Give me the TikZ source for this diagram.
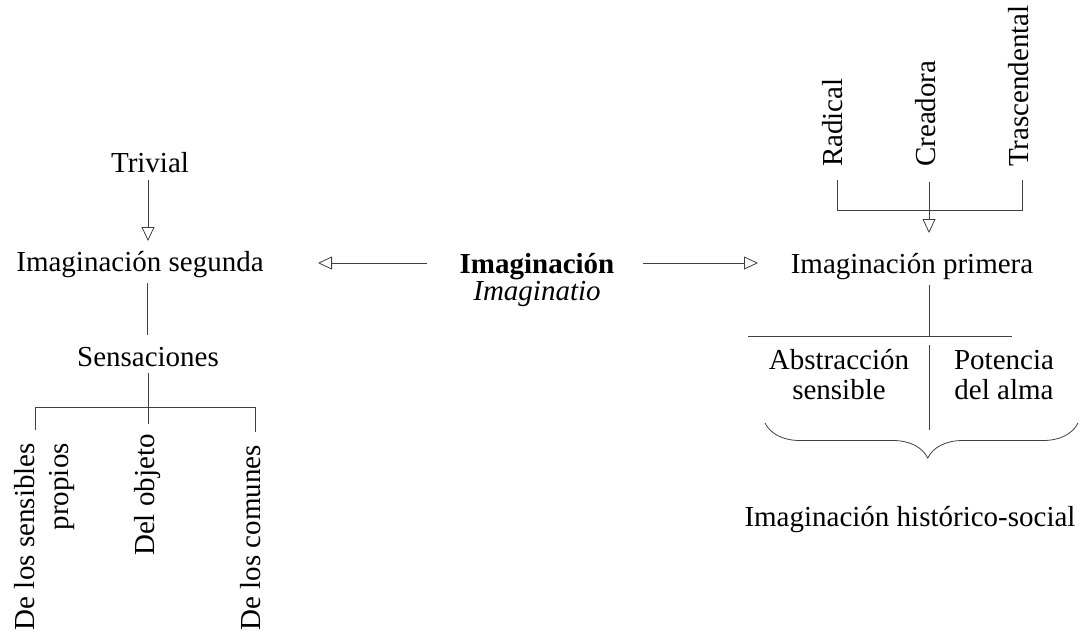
\documentclass[tikz,border=0pt]{standalone}
\usepackage{fontspec}
\setmainfont{Liberation Serif}
\usetikzlibrary{arrows.meta,decorations.pathreplacing}
\begin{document}
\begin{tikzpicture}[x=1pt,y=-1pt,
  lbl/.style={inner sep=0pt,font=\fontsize{29}{30}\selectfont},
  rlbl/.style={inner sep=0pt,font=\fontsize{29}{34}\selectfont,rotate=90},
  conn/.style={draw=black!75,line width=0.8pt},
  arr/.style={conn,-{Triangle[open,length=14pt,width=13pt]}}]
\useasboundingbox (0,0) rectangle (1084,641);
% ---------- left ----------
\node[lbl] (triv) at (150,163) {Trivial};
\node[lbl] (seg) at (140,265) {Imaginación segunda};
\node[lbl] (sens) at (148,357) {Sensaciones};
\node[rlbl,anchor=east,align=right] (dls) at (45,443) {De los sensibles\\propios};
\node[rlbl,anchor=east] (dob) at (148,434) {Del objeto};
\node[rlbl,anchor=east] (dlc) at (251,445) {De los comunes};
\coordinate (a1) at (148,180);
\coordinate (a2) at (148,241);
\draw[arr] (a1) -- (a2);
\coordinate (s1) at (147,283);
\coordinate (s2) at (147,335);
\draw[conn] (s1) -- (s2);
\coordinate (jl1) at (35,407);
\coordinate (jl2) at (255,407);
\coordinate (jl1b) at (35,430);
\coordinate (jl2b) at (255,432);
\coordinate (sb) at (148,373);
\coordinate (db) at (148,424);
\draw[conn] (sb) -- (db);
\draw[conn] (jl1b) -- (jl1) -- (jl2) -- (jl2b);
% ---------- center ----------
\node[lbl,font=\fontsize{29}{30}\selectfont\bfseries] (imag) at (537,267) {Imaginación};
\node[lbl,font=\fontsize{29}{30}\selectfont\itshape] (imagio) at (537,294) {Imaginatio};
\coordinate (la) at (427,263);
\coordinate (lb) at (318,263);
\coordinate (ra) at (643,263);
\coordinate (rb) at (758,263);
\draw[arr] (la) -- (lb);
\draw[arr] (ra) -- (rb);
% ---------- right ----------
\node[rlbl,anchor=west] (rad) at (833,167) {Radical};
\node[rlbl,anchor=west] (cre) at (926,167) {Creadora};
\node[rlbl,anchor=west] (tra) at (1019,167) {Trascendental};
\coordinate (r1) at (837,180);
\coordinate (r2) at (929,182);
\coordinate (r3) at (1022,180);
\coordinate (h1) at (837,210);
\coordinate (h2) at (929,210);
\coordinate (h3) at (1022,210);
\coordinate (h4) at (929,233);
\draw[conn] (r1) -- (h1) -- (h3) -- (r3);
\draw[conn] (r2) -- (h2);
\draw[arr] (h2) -- (h4);
\node[lbl] (prim) at (912,267) {Imaginación primera};
\coordinate (p1) at (929,285);
\coordinate (p2) at (929,336);
\coordinate (q1) at (748,336);
\coordinate (q2) at (1012,336);
\draw[conn] (p1) -- (p2);
\draw[conn] (q1) -- (q2);
\node[lbl,align=center] (abs) at (839,375) {Abstracción\\sensible};
\node[lbl,align=center] (pot) at (1004,375) {Potencia\\del alma};
\coordinate (v1) at (929,345);
\coordinate (v2) at (929,430);
\draw[conn] (v1) -- (v2);
\coordinate (b1) at (765,423);
\coordinate (b2) at (1078,423);
\draw[conn,decorate,decoration={brace,mirror,amplitude=35pt,aspect=0.52}] (b1) -- (b2);
\node[lbl] (hist) at (910,520) {Imaginación histórico-social};
\end{tikzpicture}
\end{document}
